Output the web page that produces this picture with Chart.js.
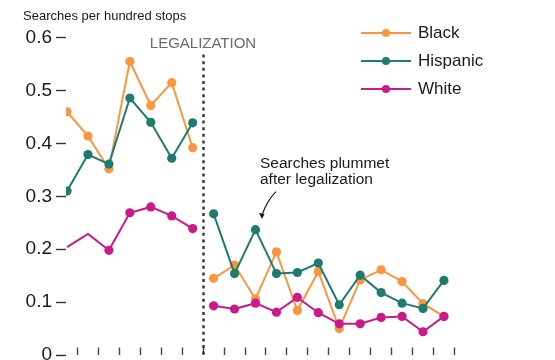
<!DOCTYPE html>
<html>
<head>
<meta charset="utf-8">
<script src="https://cdn.jsdelivr.net/npm/chart.js@4/dist/chart.umd.min.js"></script>
<style>
	html, body { margin: 0; padding: 0; background: #ffffff; }
	#wrap { position: relative; width: 555px; height: 360px; overflow: hidden; font-family: "Liberation Sans", Arial, sans-serif; }
	#chart { position: absolute; left: 0; top: 0; }
	.txt { position: absolute; white-space: nowrap; color: #1a1a1a; }
	#ytitle { left: 23px; top: 9px; font-size: 13px; line-height: 13px; }
	#legal { left: 203px; top: 35px; font-size: 15px; line-height: 15px; color: #6b6b6b; transform: translateX(-50%); }
	#note { left: 260px; top: 154.5px; font-size: 15.5px; line-height: 16px; }
	.leg { position: absolute; left: 361px; height: 20px; font-size: 17px; line-height: 20px; color: #1a1a1a; }
	.leg .ln { position: absolute; left: 0; top: 9px; width: 50px; height: 2px; }
	.leg .dot { position: absolute; left: 21px; top: 6px; width: 8px; height: 8px; border-radius: 50%; }
	.leg span { position: absolute; left: 57px; top: 0; white-space: nowrap; }
</style>
</head>
<body>
<div id="wrap">
	<canvas id="chart" width="555" height="360"></canvas>
	<div class="txt" id="ytitle">Searches per hundred stops</div>
	<div class="txt" id="legal">LEGALIZATION</div>
	<div class="txt" id="note">Searches plummet<br>after legalization</div>
	<div id="legend"></div>
</div>
<script>
// Search rates per period, 7 before legalization and 12 after
const periods = [0, 1, 2, 3, 4, 5, 6, 7, 8, 9, 10, 11, 12, 13, 14, 15, 16, 17, 18];
const periodEdges = [0.5, 1.5, 2.5, 3.5, 4.5, 5.5, 6.5, 7.5, 8.5, 9.5, 10.5, 11.5, 12.5, 13.5, 14.5, 15.5, 16.5, 17.5, 18.5];
const legalizationAt = 6.5;

const seriesNames = ["Black", "Hispanic", "White"];
const seriesColors = ["#f9963e", "#1f7a6f", "#c81a8a"];

const blackValues = [0.460, 0.414, 0.352, 0.555, 0.472, 0.515, 0.392,
	0.145, 0.170, 0.106, 0.195, 0.084, 0.158, 0.050, 0.142, 0.161, 0.139, 0.097, 0.073];
const hispanicValues = [0.310, 0.379, 0.361, 0.486, 0.440, 0.372, 0.439,
	0.267, 0.154, 0.237, 0.154, 0.156, 0.174, 0.095, 0.151, 0.118, 0.098, 0.088, 0.141];
const whiteValues = [0.204, 0.229, 0.198, 0.269, 0.280, 0.263, 0.239,
	0.093, 0.087, 0.098, 0.081, 0.109, 0.080, 0.059, 0.059, 0.071, 0.073, 0.044, 0.073];
// first two White periods are drawn without a marker
const whiteMarkers = [0, 0, 4.6, 4.6, 4.6, 4.6, 4.6, 4.6, 4.6, 4.6, 4.6, 4.6, 4.6, 4.6, 4.6, 4.6, 4.6, 4.6, 4.6];

const yTicks = [0, 0.1, 0.2, 0.3, 0.4, 0.5, 0.6];

// Legend
const legendEl = document.getElementById("legend");
seriesNames.forEach(function (name, i) {
	const row = document.createElement("div");
	row.className = "leg";
	row.style.top = 23 + i * 28 + "px";
	row.innerHTML = '<div class="ln" style="background:' + seriesColors[i] + '"></div>' +
		'<div class="dot" style="background:' + seriesColors[i] + '"></div>' +
		"<span>" + name + "</span>";
	legendEl.appendChild(row);
});

function toPoints(values) {
	return values.map((v, i) => ({ x: periods[i], y: v }));
}

// no line across the legalization break
const breakSegment = {
	borderColor: (ctx) => (ctx.p0.parsed.x < legalizationAt && ctx.p1.parsed.x > legalizationAt ? "rgba(0,0,0,0)" : undefined),
};

// Dotted legalization line and annotation arrow
const annotations = {
	id: "annotations",
	beforeDatasetsDraw(chart) {
		const { ctx, scales } = chart;
		const x = Math.round(scales.x.getPixelForValue(legalizationAt)) + 0.5;
		ctx.save();
		ctx.strokeStyle = "#333333";
		ctx.lineWidth = 2.4;
		ctx.setLineDash([3, 3.6]);
		ctx.beginPath();
		ctx.moveTo(x, scales.y.getPixelForValue(0.568));
		ctx.lineTo(x, scales.y.getPixelForValue(0));
		ctx.stroke();
		ctx.restore();
	},
	afterDatasetsDraw(chart) {
		const { ctx, scales } = chart;
		const x0 = scales.x.getPixelForValue(9.98), y0 = scales.y.getPixelForValue(0.309);
		const x1 = scales.x.getPixelForValue(9.31), y1 = scales.y.getPixelForValue(0.257);
		ctx.save();
		ctx.strokeStyle = "#1a1a1a";
		ctx.fillStyle = "#1a1a1a";
		ctx.lineWidth = 1.2;
		ctx.beginPath();
		ctx.moveTo(x0, y0);
		ctx.quadraticCurveTo(x0 - 9, y0 + 9, x1, y1 - 4);
		ctx.stroke();
		ctx.beginPath();
		ctx.moveTo(x1, y1);
		ctx.lineTo(x1 - 3, y1 - 6);
		ctx.lineTo(x1 + 2.5, y1 - 5);
		ctx.closePath();
		ctx.fill();
		ctx.restore();
	},
};

const valueSets = [blackValues, hispanicValues, whiteValues];

new Chart(document.getElementById("chart"), {
	type: "line",
	data: {
		datasets: seriesNames.map((name, i) => ({
			label: name,
			data: toPoints(valueSets[i]),
			borderColor: seriesColors[i],
			backgroundColor: seriesColors[i],
			borderWidth: 2,
			pointRadius: i === 2 ? whiteMarkers : 4.6,
			pointBorderWidth: 0,
			pointHoverRadius: 5,
			tension: 0,
			order: 2 - i,
			segment: breakSegment,
		})),
	},
	options: {
		responsive: false,
		animation: false,
		layout: {
			padding: { left: 0, right: 98.5, top: 37.7, bottom: 4.5 },
		},
		plugins: {
			legend: { display: false },
			tooltip: { enabled: false },
		},
		scales: {
			x: {
				type: "linear",
				min: -0.05,
				max: 18.6,
				afterBuildTicks: (scale) => {
					scale.ticks = periodEdges.map((v) => ({ value: v }));
				},
				afterFit: (scale) => {
					scale.height = 0;
				},
				border: { display: false },
				grid: {
					drawOnChartArea: false,
					drawTicks: true,
					tickLength: -7.5,
					tickColor: "#444444",
					tickWidth: 1.4,
				},
				ticks: { display: false },
			},
			y: {
				min: 0,
				max: 0.6,
				afterBuildTicks: (scale) => {
					scale.ticks = yTicks.map((v) => ({ value: v }));
				},
				afterFit: (scale) => {
					scale.width = 66;
					// the "0" label may run off the bottom edge, as in the original
					scale.paddingBottom = 0;
					scale.paddingTop = 0;
				},
				border: { display: false },
				grid: {
					drawOnChartArea: false,
					drawTicks: true,
					tickLength: 10,
					tickColor: "#333333",
					tickWidth: 1.4,
				},
				ticks: {
					padding: 4,
					color: "#1a1a1a",
					font: { size: 19, family: "'Liberation Sans', Arial, sans-serif" },
					callback: (v) => (v === 0 ? "0" : v.toFixed(1)),
				},
			},
		},
	},
	plugins: [annotations],
});
</script>
</body>
</html>
